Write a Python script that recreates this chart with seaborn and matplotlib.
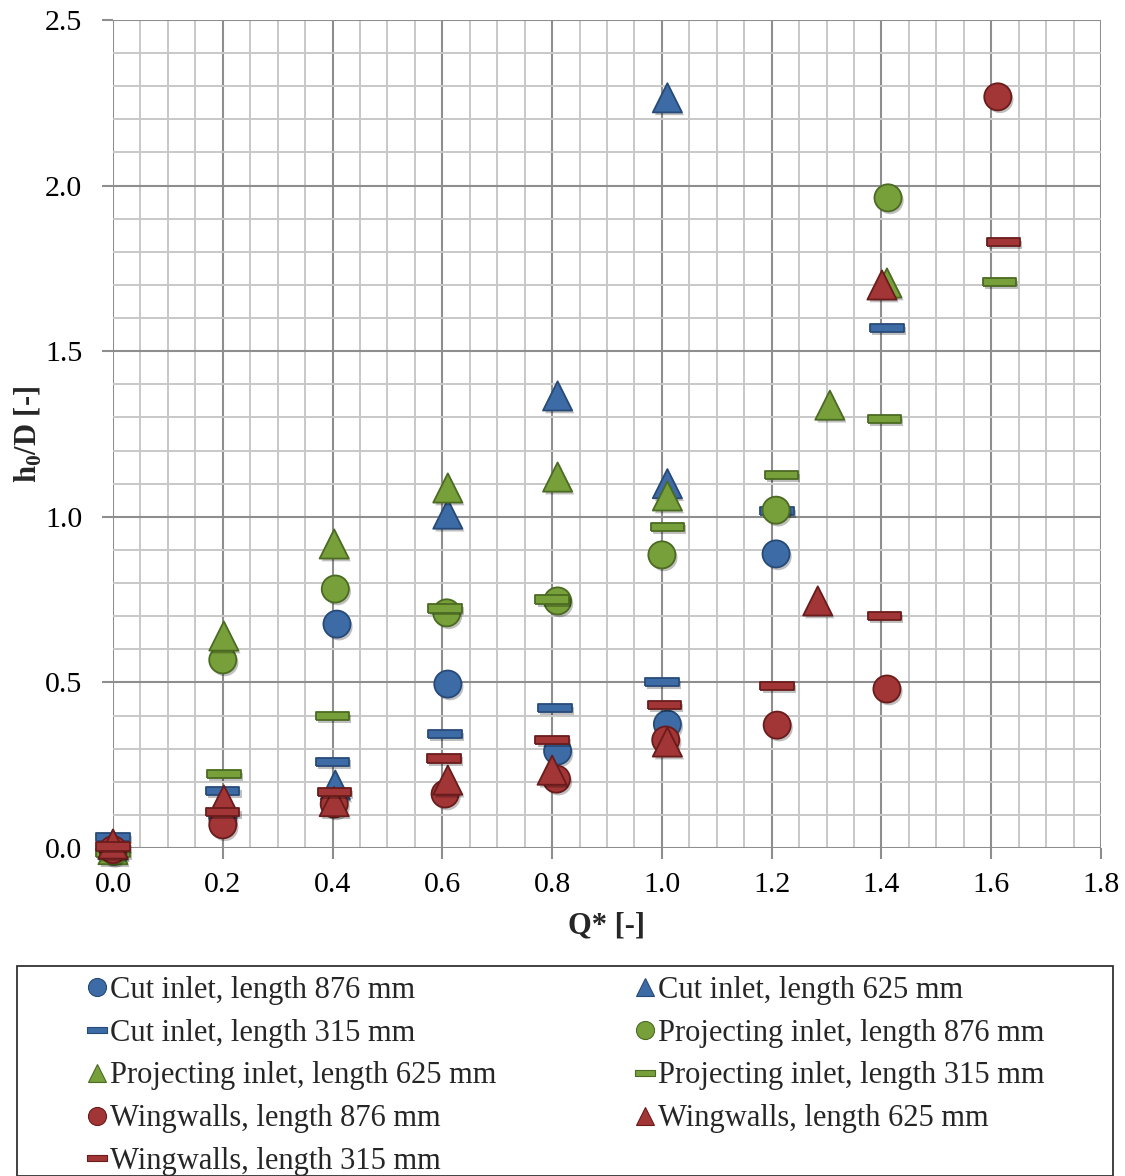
import numpy as np
import pandas as pd
import seaborn as sns
import matplotlib
matplotlib.use("Agg")
import matplotlib.pyplot as plt
from matplotlib.lines import Line2D
from matplotlib.patches import Rectangle
from matplotlib.ticker import MultipleLocator, FormatStrFormatter
import matplotlib.patheffects as pe

# ---------------- data ----------------
cut876_x = [0.0, 0.2, 0.408, 0.61, 0.81, 1.01, 1.208]
cut876_y = [0.0, 0.09, 0.676, 0.495, 0.293, 0.374, 0.888]

cut625_x = [0.0, 0.405, 0.61, 0.81, 1.01, 1.01]
cut625_y = [0.01, 0.19, 1.008, 1.365, 2.265, 1.10]

cut315_x = [0.0, 0.2, 0.40, 0.605, 0.805, 1.0, 1.21, 1.41]
cut315_y = [0.033, 0.172, 0.26, 0.344, 0.423, 0.501, 1.017, 1.57]

proj876_x = [0.0, 0.2, 0.405, 0.608, 0.81, 1.0, 1.208, 1.412]
proj876_y = [-0.01, 0.568, 0.782, 0.71, 0.746, 0.885, 1.02, 1.963]

proj625_x = [0.0, 0.202, 0.403, 0.61, 0.81, 1.01, 1.306, 1.41]
proj625_y = [-0.005, 0.64, 0.918, 1.087, 1.12, 1.063, 1.337, 1.706]

proj315_x = [0.0, 0.202, 0.40, 0.605, 0.80, 1.01, 1.218, 1.405, 1.615]
proj315_y = [-0.015, 0.223, 0.398, 0.723, 0.75, 0.97, 1.126, 1.295, 1.709]

wing876_x = [0.0, 0.2, 0.403, 0.605, 0.808, 1.007, 1.21, 1.41, 1.612]
wing876_y = [-0.005, 0.07, 0.133, 0.163, 0.208, 0.326, 0.371, 0.48, 2.268]

wing625_x = [0.0, 0.202, 0.403, 0.61, 0.80, 1.01, 1.284, 1.401]
wing625_y = [0.012, 0.145, 0.14, 0.205, 0.235, 0.32, 0.746, 1.70]

wing315_x = [0.0, 0.2, 0.403, 0.603, 0.80, 1.005, 1.21, 1.405, 1.622]
wing315_y = [0.005, 0.109, 0.169, 0.27, 0.326, 0.432, 0.489, 0.70, 1.83]

labels = [
    "Cut inlet, length 876 mm", "Cut inlet, length 625 mm", "Cut inlet, length 315 mm",
    "Projecting inlet, length 876 mm", "Projecting inlet, length 625 mm", "Projecting inlet, length 315 mm",
    "Wingwalls, length 876 mm", "Wingwalls, length 625 mm", "Wingwalls, length 315 mm",
]

# ---------------- style ----------------
BLUE = ("#3C6BA5", "#274A78")
GREEN = ("#77A03A", "#4B6A22")
RED = ("#A23535", "#6A1C1C")
RECT = [(-2, -0.5), (2, -0.5), (2, 0.5), (-2, 0.5), (-2, -0.5)]

series = [
    (cut876_x, cut876_y, BLUE, "o", 19.5),
    (cut625_x, cut625_y, BLUE, "^", 21),
    (cut315_x, cut315_y, BLUE, RECT, 24),
    (proj876_x, proj876_y, GREEN, "o", 19.5),
    (proj625_x, proj625_y, GREEN, "^", 21),
    (proj315_x, proj315_y, GREEN, RECT, 24),
    (wing876_x, wing876_y, RED, "o", 19.5),
    (wing625_x, wing625_y, RED, "^", 21),
    (wing315_x, wing315_y, RED, RECT, 24),
]

sns.set_theme(style="white")
plt.rcParams['font.family'] = ['Liberation Serif', 'DejaVu Serif']
plt.rcParams['mathtext.fontset'] = 'custom'
plt.rcParams['mathtext.rm'] = 'Liberation Serif'
plt.rcParams['mathtext.bf'] = 'Liberation Serif:bold'

W, H = 1125, 1176
fig = plt.figure(figsize=(W / 100, H / 100), dpi=100)
ax = fig.add_axes([113 / W, 1 - 848 / H, (1101 - 113) / W, (848 - 20) / H])

shadow = [pe.SimplePatchShadow(offset=(1.5, -2), shadow_rgbFace="#000000", alpha=0.25), pe.Normal()]

for (xs, ys, (fc, ec), mk, ms), lab in zip(series, labels):
    df = pd.DataFrame({"x": xs, "y": ys})
    sns.scatterplot(data=df, x="x", y="y", ax=ax, marker=mk, s=ms ** 2,
                    color=fc, edgecolor=ec, linewidth=1.3, legend=False,
                    zorder=3, path_effects=shadow, clip_on=False)

ax.set_xlim(0, 1.8)
ax.set_ylim(0, 2.5)
ax.xaxis.set_major_locator(MultipleLocator(0.2))
ax.xaxis.set_minor_locator(MultipleLocator(0.05))
ax.yaxis.set_major_locator(MultipleLocator(0.5))
ax.yaxis.set_minor_locator(MultipleLocator(0.1))
ax.xaxis.set_major_formatter(FormatStrFormatter("%.1f"))
ax.yaxis.set_major_formatter(FormatStrFormatter("%.1f"))
ax.grid(which="major", color="#8E8E8E", linewidth=1.5, zorder=0)
ax.grid(which="minor", color="#C8C8C8", linewidth=1.4, zorder=0)
ax.set_axisbelow(True)
for s in ax.spines.values():
    s.set_visible(False)
ax.tick_params(axis="both", which="major", length=8, width=1.5, color="#8E8E8E",
               labelsize=21.5, labelcolor="black", bottom=True, left=True)
ax.tick_params(axis="x", which="major", pad=9)
ax.tick_params(axis="y", which="major", pad=14)
ax.tick_params(axis="both", which="minor", length=0)
ax.set_xlabel("Q* [-]", fontsize=22, fontweight="bold", labelpad=10)
ax.set_ylabel(r"h$_\mathbf{0}$/D [-]", fontsize=22, fontweight="bold", labelpad=1)

# legend frame
fig.add_artist(Rectangle((17 / W, 0.0), (1113 - 17) / W, (1176 - 966) / H,
                         transform=fig.transFigure, fill=False,
                         edgecolor="#333333", linewidth=1.3))

def handle(i):
    xs, ys, (fc, ec), mk, ms = series[i]
    size = 13 if mk != RECT else 15
    return Line2D([], [], linestyle="none", marker=mk, markersize=size,
                  markerfacecolor=fc, markeredgecolor=ec, markeredgewidth=0.8)

cols = [([0, 2, 4, 6, 8], 88), ([1, 3, 5, 7], 636)]
for idx, xpx in cols:
    fig.legend([handle(i) for i in idx], [labels[i] for i in idx],
               loc="upper left", bbox_to_anchor=(xpx / W, 1 - 976 / H),
               frameon=False, fontsize=22, handlelength=0.62,
               handletextpad=0.1, labelspacing=0.45, borderpad=0.0,
               borderaxespad=0.0)

fig.savefig("out.png", dpi=100)
